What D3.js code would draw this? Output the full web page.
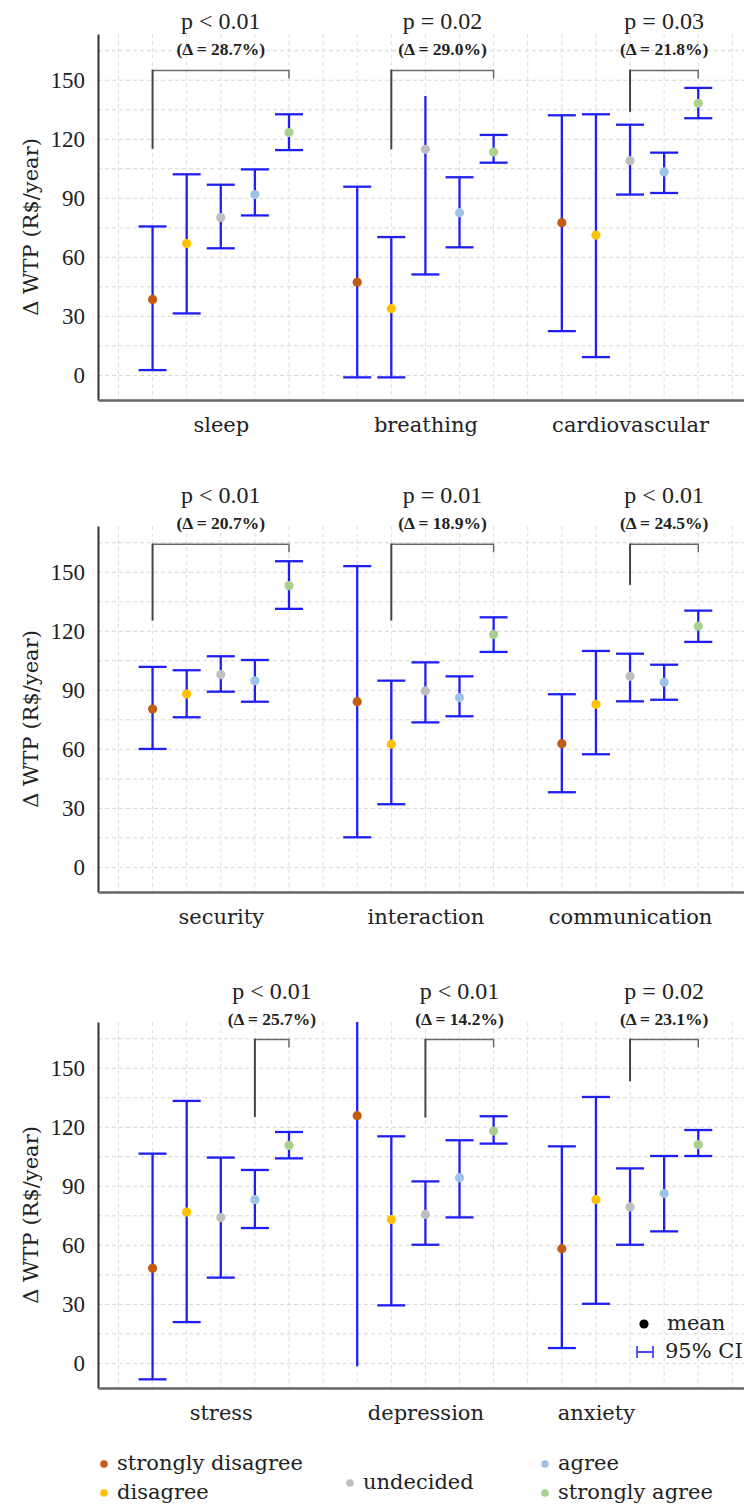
<!DOCTYPE html>
<html>
<head>
<meta charset="utf-8">
<title>WTP by agreement level</title>
<script src="https://cdn.jsdelivr.net/npm/d3@7"></script>
<style>
  body { margin: 0; background: #fff; }
  svg text { fill: #222; }
</style>
</head>
<body>
<div id="chart"></div>
<script>
// categories, three per panel
var categories = ["sleep", "breathing", "cardiovascular",
                  "security", "interaction", "communication",
                  "stress", "depression", "anxiety"];
var levels = ["strongly disagree", "disagree", "undecided", "agree", "strongly agree"];
var levelColors = ["#c55a11", "#ffc000", "#bfbfbf", "#9dc3e6", "#a9d18e"];

// mean and 95% CI per category, one value per level
var means = [
  [38.6, 67.0, 80.3, 91.9, 123.4],
  [47.4, 33.9, 114.9, 82.7, 113.5],
  [77.6, 71.3, 109.1, 103.4, 138.3],
  [80.5, 88.1, 98.0, 94.8, 143.2],
  [84.2, 62.6, 89.7, 86.3, 118.3],
  [62.9, 82.9, 97.1, 94.1, 122.6],
  [48.3, 76.9, 74.1, 83.2, 110.8],
  [125.9, 73.1, 75.7, 94.4, 118.1],
  [58.3, 83.2, 79.5, 86.3, 111.2]
];
var lower = [
  [2.7, 31.5, 64.6, 81.3, 114.5],
  [-1.0, -1.0, 51.3, 65.1, 108.1],
  [22.5, 9.3, 91.9, 92.7, 130.7],
  [60.2, 76.3, 89.3, 84.2, 131.4],
  [15.3, 32.1, 73.7, 76.8, 109.5],
  [38.2, 57.5, 84.4, 85.2, 114.6],
  [-8.1, 21.0, 43.6, 68.8, 104.2],
  [-1.5, 29.5, 60.3, 74.2, 111.7],
  [7.8, 30.3, 60.3, 67.1, 105.4]
];
var upper = [
  [75.7, 102.2, 96.9, 104.7, 132.7],
  [95.9, 70.3, 142.0, 100.7, 122.2],
  [132.2, 132.7, 127.4, 113.2, 146.1],
  [101.9, 100.2, 107.3, 105.4, 155.6],
  [153.1, 94.9, 104.2, 97.1, 127.1],
  [88.0, 110.0, 108.6, 103.0, 130.5],
  [106.6, 133.4, 104.6, 98.3, 117.6],
  [185.0, 115.4, 92.5, 113.4, 125.6],
  [110.3, 135.4, 99.1, 105.4, 118.6]
];
// CI ends drawn without a cap: [category index, level index, end]
var uncapped = [[1, 2, "hi"], [7, 0, "lo"], [7, 0, "hi"]];

// significance annotations
var pLabels = ["p < 0.01", "p = 0.02", "p = 0.03",
               "p < 0.01", "p = 0.01", "p < 0.01",
               "p < 0.01", "p < 0.01", "p = 0.02"];
var deltas = ["28.7", "29.0", "21.8", "20.7", "18.9", "24.5", "25.7", "14.2", "23.1"];
var bracketFrom = [0, 1, 2, 0, 1, 2, 3, 2, 2];
var bracketLeg = [115.2, 114.9, 133.9, 125.4, 125.4, 143.6, 125.2, 124.9, 143.4];
var bracketTop = [155, 164.2, 164.6];

var yTicks = [0, 30, 60, 90, 120, 150];
var labelPos = [3, 9, 15, 3, 9, 15, 3, 9, 14];

var W = 744, H = 1508;
var left = 98, right = 746, plotH = 366;
var panelTops = [34, 526, 1022];
var serif = "'DejaVu Serif', serif";
var lib = "'Liberation Serif', serif";

var svg = d3.select("#chart").append("svg")
    .attr("width", W).attr("height", H);

var x = d3.scaleLinear().domain([-0.6, 18.4]).range([left, right]);
function pos(c, s) { return (c % 3) * 6 + s + 1; }

panelTops.forEach(function (top, p) {
    var bottom = top + plotH;
    var y = d3.scaleLinear().domain([-12.5, 173.5]).range([bottom, top]);
    var g = svg.append("g");
    var cats = d3.range(p * 3, p * 3 + 3);

    // grid
    g.selectAll(".hg").data(d3.range(0, 166, 15)).enter().append("line")
        .attr("x1", left).attr("x2", right)
        .attr("y1", function (d) { return y(d); }).attr("y2", function (d) { return y(d); })
        .attr("stroke", "#d6d6d6").attr("stroke-width", 1).attr("stroke-dasharray", "4,3");
    g.selectAll(".vg").data(d3.range(0, 19)).enter().append("line")
        .attr("y1", top).attr("y2", bottom)
        .attr("x1", function (d) { return x(d); }).attr("x2", function (d) { return x(d); })
        .attr("stroke", "#dedede").attr("stroke-width", 1).attr("stroke-dasharray", "4,3");

    // y axis
    var ya = g.append("g").attr("transform", "translate(" + left + ",0)")
        .call(d3.axisLeft(y).tickValues(yTicks).tickSize(0).tickSizeOuter(0).tickPadding(13));
    ya.select(".domain").attr("stroke", "#333").attr("stroke-width", 2);
    ya.selectAll("text").style("font-family", lib).style("font-size", "23px").attr("fill", "#222");

    // x axis with category labels
    var xa = g.append("g").attr("transform", "translate(0," + bottom + ")")
        .call(d3.axisBottom(x)
            .tickValues(cats.map(function (c) { return labelPos[c]; }))
            .tickFormat(function (d, i) { return categories[cats[i]]; })
            .tickSize(0).tickSizeOuter(0).tickPadding(17));
    xa.select(".domain").attr("stroke", "#666").attr("stroke-width", 2.5);
    xa.selectAll("text").style("font-family", serif).style("font-size", "21px").attr("fill", "#222");

    // y label
    g.append("text")
        .attr("transform", "translate(38," + (top + plotH / 2 + 10) + ") rotate(-90)")
        .attr("text-anchor", "middle")
        .style("font-family", serif).style("font-size", "21px")
        .text("\u0394 WTP (R$/year)");

    // clip for bars running off the plot
    svg.append("clipPath").attr("id", "clip" + p).append("rect")
        .attr("x", left).attr("y", top).attr("width", right - left).attr("height", plotH);
    var bars = g.append("g").attr("clip-path", "url(#clip" + p + ")");

    var rows = [];
    cats.forEach(function (c) {
        levels.forEach(function (l, s) {
            rows.push({ c: c, s: s, m: means[c][s], lo: lower[c][s], hi: upper[c][s] });
        });
    });
    function capped(d, end) {
        return !uncapped.some(function (u) { return u[0] === d.c && u[1] === d.s && u[2] === end; });
    }

    var blue = "#1f1ff5";
    bars.selectAll(".ci").data(rows).enter().append("line")
        .attr("x1", function (d) { return x(pos(d.c, d.s)); })
        .attr("x2", function (d) { return x(pos(d.c, d.s)); })
        .attr("y1", function (d) { return y(d.lo); })
        .attr("y2", function (d) { return y(d.hi); })
        .attr("stroke", blue).attr("stroke-width", 2.3);
    ["lo", "hi"].forEach(function (end) {
        bars.selectAll(".cap" + end).data(rows.filter(function (d) { return capped(d, end); }))
            .enter().append("line")
            .attr("x1", function (d) { return x(pos(d.c, d.s)) - 14; })
            .attr("x2", function (d) { return x(pos(d.c, d.s)) + 14; })
            .attr("y1", function (d) { return y(d[end]); })
            .attr("y2", function (d) { return y(d[end]); })
            .attr("stroke", blue).attr("stroke-width", 2.3);
    });

    g.selectAll(".pt").data(rows).enter().append("circle")
        .attr("cx", function (d) { return x(pos(d.c, d.s)); })
        .attr("cy", function (d) { return y(d.m); })
        .attr("r", 4.6)
        .attr("fill", function (d) { return levelColors[d.s]; });

    // brackets and p values
    cats.forEach(function (c) {
        var x0 = x(pos(c, bracketFrom[c])), x1 = x(pos(c, 4));
        var yt = y(bracketTop[p]);
        g.append("path")
            .attr("d", "M" + x0 + "," + yt + "H" + x1 + "V" + (yt + 8))
            .attr("fill", "none").attr("stroke", "#6a6a6a").attr("stroke-width", 1.5);
        g.append("line")
            .attr("x1", x0).attr("x2", x0).attr("y1", yt - 0.75).attr("y2", y(bracketLeg[c]))
            .attr("stroke", "#444").attr("stroke-width", 2);
        var mid = (x0 + x1) / 2;
        g.append("text").attr("x", mid).attr("y", yt - 41)
            .attr("text-anchor", "middle")
            .style("font-family", lib).style("font-size", "24px")
            .text(pLabels[c]);
        g.append("text").attr("x", mid).attr("y", yt - 15)
            .attr("text-anchor", "middle")
            .style("font-family", lib).style("font-size", "17.5px").style("font-weight", "bold")
            .text("(\u0394 = " + deltas[c] + "%)");
    });
});

// mean / CI key
var key = svg.append("g");
key.append("circle").attr("cx", 644).attr("cy", 1324).attr("r", 4.6).attr("fill", "#000");
key.append("text").attr("x", 667).attr("y", 1330)
    .style("font-family", serif).style("font-size", "21px").text("mean");
key.append("path").attr("d", "M637,1346V1358M637,1352H653M653,1346V1358")
    .attr("fill", "none").attr("stroke", "#4848ff").attr("stroke-width", 1.8);
key.append("text").attr("x", 665).attr("y", 1358)
    .style("font-family", serif).style("font-size", "21px").text("95% CI");

// level legend
var legendX = [104, 104, 350, 545, 545];
var legendY = [1464, 1493, 1483, 1464, 1493];
var leg = svg.append("g").selectAll("g").data(levels).enter().append("g")
    .attr("transform", function (d, i) { return "translate(" + legendX[i] + "," + legendY[i] + ")"; });
leg.append("circle").attr("r", 3.8).attr("fill", function (d, i) { return levelColors[i]; });
leg.append("text").attr("x", 13).attr("y", 6)
    .style("font-family", serif).style("font-size", "21px")
    .text(function (d) { return d; });
</script>
</body>
</html>
